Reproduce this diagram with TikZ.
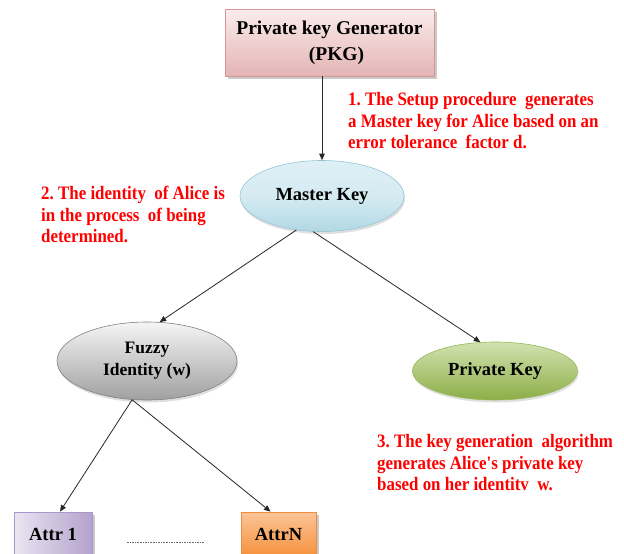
\documentclass[tikz,border=0pt]{standalone}
\usepackage{fontspec}
\setmainfont{Liberation Serif}
\newfontfamily\notefont[FakeStretch=0.89]{Liberation Serif}
\usetikzlibrary{arrows.meta,shadows,shapes.geometric}
\frenchspacing

\definecolor{pkgtop}{RGB}{251,236,236}
\definecolor{pkgbot}{RGB}{228,180,180}
\definecolor{pkgline}{RGB}{214,150,150}
\definecolor{mktop}{RGB}{222,240,245}
\definecolor{mkbot}{RGB}{178,216,228}
\definecolor{mkline}{RGB}{150,198,214}
\definecolor{fztop}{RGB}{245,245,245}
\definecolor{fzbot}{RGB}{160,160,160}
\definecolor{fzline}{RGB}{128,128,128}
\definecolor{pvtop}{RGB}{210,226,176}
\definecolor{pvbot}{RGB}{140,174,72}
\definecolor{pvline}{RGB}{150,185,85}
\definecolor{a1left}{RGB}{234,229,242}
\definecolor{a1right}{RGB}{180,162,204}
\definecolor{a1line}{RGB}{170,150,200}
\definecolor{antop}{RGB}{251,196,150}
\definecolor{anbot}{RGB}{245,146,62}
\definecolor{anline}{RGB}{240,140,60}
\definecolor{notered}{RGB}{255,0,0}

\tikzset{
  x=1pt, y=-1pt,
  box/.style={draw, line width=0.8pt, inner sep=0pt, align=center,
    font=\bfseries\fontsize{18.5}{22}\selectfont,
    drop shadow={shadow xshift=2.5pt, shadow yshift=-3pt, opacity=0.35, fill=black!60}},
  oval/.style={ellipse, draw, line width=0.6pt, inner sep=0pt, align=center,
    font=\bfseries\fontsize{18.5}{22}\selectfont,
    drop shadow={shadow xshift=1pt, shadow yshift=-2.5pt, opacity=0.25, fill=black!50}},
  note/.style={anchor=north west, inner sep=0pt, align=left, text=notered,
    font=\notefont\bfseries\fontsize{19}{21.7}\selectfont},
  arr/.style={draw=black!85, line width=0.8pt, -{Triangle[length=6.5pt,width=5.5pt]}},
}

\begin{document}
\begin{tikzpicture}
\useasboundingbox (0,0) rectangle (624,554);

% generator box
\node[box, draw=pkgline, top color=pkgtop, bottom color=pkgbot,
      minimum width=209pt, minimum height=67pt, font=\bfseries\fontsize{19.5}{26}\selectfont]
  (pkg) at (329.5,42.5) {Private key Generator\\\hspace*{14pt}(PKG)};

% key nodes
\node[oval, draw=mkline, top color=mktop, bottom color=mkbot, middle color=mktop!80!mkbot,
      minimum width=164pt, minimum height=71pt] (master) at (322,196) {Master Key};
\node[oval, draw=fzline, top color=fztop, bottom color=fzbot,
      minimum width=180pt, minimum height=78pt, font=\bfseries\fontsize{17.5}{22}\selectfont]
  (fuzzy) at (147,361) {Fuzzy\\Identity (w)};
\node[oval, draw=pvline, top color=pvtop, bottom color=pvbot,
      minimum width=165pt, minimum height=58pt] (private) at (495,371) {Private Key};

% attribute boxes
\node[box, draw=a1line, left color=a1left, right color=a1right,
      minimum width=78pt, minimum height=44pt] (attr1) at (53,534) {Attr 1};
\node[box, draw=anline, top color=antop, bottom color=anbot,
      minimum width=75pt, minimum height=44pt] (attrN) at (278.5,534) {AttrN};

% ellipsis between the attributes
\coordinate (dotl) at (127,542);
\coordinate (dotr) at (205,542);
\draw[black!60, line width=0.8pt, dash pattern=on 1.6pt off 1pt] (dotl) -- (dotr);

% connectors
\draw[arr] (master.north |- pkg.south) -- (master.north);
\draw[arr] (master.233) -- (fuzzy.72);
\draw[arr] (master.256) -- (private.117);
\draw[arr] (fuzzy.249) -- ([xshift=7pt]attr1.north);
\draw[arr] (fuzzy.249) -- ([xshift=-8pt]attrN.north);

% step notes
\node[note] (note1) at (348,92) {1. The Setup procedure\ \ generates\\a Master key for Alice based on an\\error tolerance\ \ factor d.};
\node[note] (note2) at (41,186) {2. The identity\ \ of Alice is\\in the process\ \ of being\\determined.};
\node[note] (note3) at (377,434) {3. The key generation\ \ algorithm\\generates Alice's private key\\based on her identitv\ \ w.};
\end{tikzpicture}
\end{document}
